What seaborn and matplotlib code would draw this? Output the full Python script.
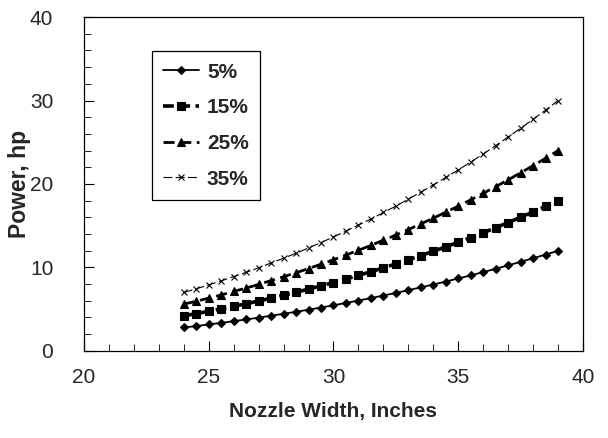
import numpy as np
import pandas as pd
import seaborn as sns
import matplotlib.pyplot as plt
from matplotlib.ticker import MultipleLocator

# Nozzle widths, inches
width = [24.0, 24.5, 25.0, 25.5, 26.0, 26.5, 27.0, 27.5, 28.0, 28.5, 29.0,
         29.5, 30.0, 30.5, 31.0, 31.5, 32.0, 32.5, 33.0, 33.5, 34.0, 34.5,
         35.0, 35.5, 36.0, 36.5, 37.0, 37.5, 38.0, 38.5, 39.0]

# Power, hp for each percentage
p5 = [2.80, 2.97, 3.16, 3.35, 3.56, 3.76, 3.98, 4.21, 4.44, 4.68, 4.93,
      5.19, 5.46, 5.74, 6.03, 6.32, 6.63, 6.94, 7.27, 7.61, 7.95, 8.31,
      8.67, 9.05, 9.44, 9.84, 10.25, 10.67, 11.10, 11.54, 12.00]
p15 = [4.20, 4.46, 4.74, 5.03, 5.34, 5.64, 5.97, 6.32, 6.66, 7.02, 7.40,
       7.79, 8.19, 8.61, 9.05, 9.48, 9.95, 10.41, 10.91, 11.42, 11.93, 12.47,
       13.01, 13.58, 14.16, 14.76, 15.38, 16.01, 16.65, 17.31, 18.00]
p25 = [5.60, 5.94, 6.32, 6.70, 7.12, 7.52, 7.96, 8.42, 8.88, 9.36, 9.86,
       10.38, 10.92, 11.48, 12.06, 12.64, 13.26, 13.88, 14.54, 15.22, 15.90, 16.62,
       17.34, 18.10, 18.88, 19.68, 20.50, 21.34, 22.20, 23.08, 24.00]
p35 = [7.00, 7.43, 7.90, 8.38, 8.90, 9.40, 9.95, 10.53, 11.10, 11.70, 12.33,
       12.98, 13.65, 14.35, 15.08, 15.80, 16.58, 17.35, 18.18, 19.03, 19.88, 20.78,
       21.68, 22.63, 23.60, 24.60, 25.63, 26.68, 27.75, 28.85, 30.00]

labels = ["5%", "15%", "25%", "35%"]

sns.set_style("ticks")
plt.rcParams['font.family'] = ['Liberation Sans', 'DejaVu Sans']

fig = plt.figure(figsize=(6.08, 4.38), dpi=100)
ax = fig.add_axes([0.138, 0.199, 0.821, 0.762])

# styles: marker, linestyle, linewidth, markersize
styles = [("D", "-", 1.3, 4.5),
          ("s", (0, (3, 1.5)), 2.6, 5.5),
          ("^", (0, (4, 2)), 2.0, 5.5),
          ("x", (0, (8, 3)), 0.8, 4)]

for vals, lab, (mk, ls, lw, ms) in zip([p5, p15, p25, p35], labels, styles):
    sns.lineplot(x=width, y=vals, ax=ax, color="black", marker=mk,
                 linestyle=ls, linewidth=lw, markersize=ms,
                 markeredgecolor="black", markeredgewidth=0.8, label=lab)

ax.set_xlim(20, 40)
ax.set_ylim(0, 40)
ax.xaxis.set_major_locator(MultipleLocator(5))
ax.xaxis.set_minor_locator(MultipleLocator(1))
ax.yaxis.set_major_locator(MultipleLocator(10))
ax.yaxis.set_minor_locator(MultipleLocator(2))
ax.tick_params(which="both", direction="in", labelsize=15, color="black")
ax.tick_params(which="major", length=7, pad=12)
ax.tick_params(which="minor", length=5)
ax.tick_params(axis="y", pad=22)
for s in ax.spines.values():
    s.set_visible(True)
    s.set_linewidth(0.9)
    s.set_color("black")

ax.set_xlabel("Nozzle Width, Inches", fontsize=15, fontweight="bold", labelpad=11)
ax.set_ylabel("Power, hp", fontsize=16.5, fontweight="bold", labelpad=-1)

leg = ax.legend(loc="upper left", bbox_to_anchor=(0.136, 0.898), frameon=True,
                fancybox=False, edgecolor="black", framealpha=1,
                prop={"weight": "bold", "size": 15}, handlelength=1.7,
                labelspacing=0.8, borderpad=0.55, borderaxespad=0,
                handletextpad=0.4)
leg.get_frame().set_linewidth(0.9)

fig.savefig("out.png", dpi=100)
